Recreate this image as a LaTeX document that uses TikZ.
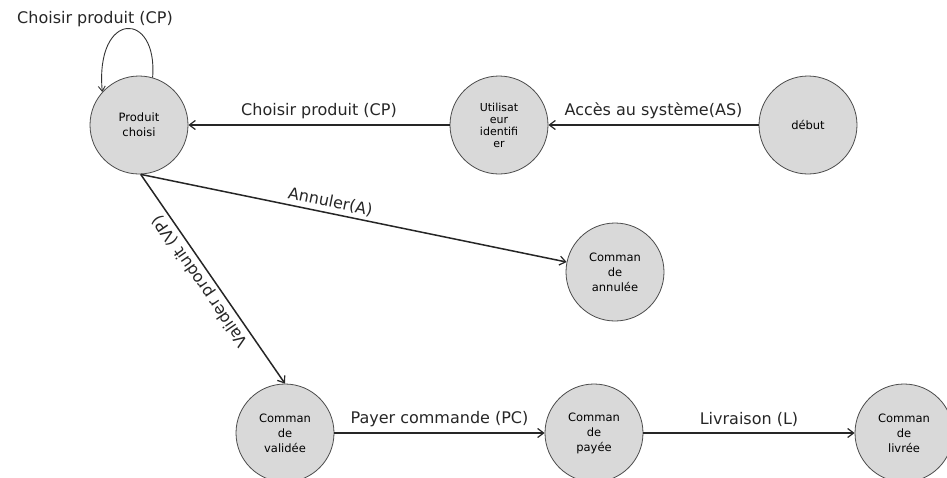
\documentclass[tikz,border=0pt]{standalone}
\usepackage{fontspec}
\setmainfont{DejaVu Sans}
\usetikzlibrary{arrows.meta}
\begin{document}
\begin{tikzpicture}[x=1pt,y=-1pt,
  state/.style={circle, draw=black!70, line width=0.8pt, fill=black!15,
    minimum size=98pt, inner sep=0pt, align=center,
    font=\fontsize{11.5}{15}\selectfont},
  trans/.style={draw=black!85, line width=1.5pt,
    -{Straight Barb[length=6pt,width=9pt,line width=1.2pt]}},
  loop/.style={draw=black!80, line width=0.9pt,
    -{Straight Barb[length=5pt,width=7pt,line width=0.9pt]}},
  lbl/.style={font=\fontsize{16}{18}\selectfont, text=black!85}]
\useasboundingbox (0,0) rectangle (947,477);

% states
\node[state] (pc)  at (139,125) {Produit\\choisi};
\node[state, font=\fontsize{11}{12}\selectfont] (ui) at (499,125) {Utilisat\\eur\\identifi\\er};
\node[state] (deb) at (808,125) {début};
\node[state] (ann) at (615,272) {Comman\\de\\annulée};
\node[state] (val) at (285,433) {Comman\\de\\validée};
\node[state] (pay) at (594,433) {Comman\\de\\payée};
\node[state] (liv) at (904,433) {Comman\\de\\livrée};

% self loop on the chosen product
\draw[loop] (pc.74) .. controls (158,10) and (95,10) .. (pc.138);
\node[lbl] (cpl) at (95,19) {Choisir produit (CP)};

% transitions
\draw[trans] (deb) -- node[lbl, above=2pt] {Accès au système(AS)} (ui);
\draw[trans] (ui) -- node[lbl, above=2pt] {Choisir produit (CP)} (pc);
\draw[trans] (pc.-88) -- node[lbl, pos=0.44, sloped, above=0pt] {Annuler(A)} (ann);
\draw[trans] (pc.-88) -- node[lbl, pos=0.48, rotate=124.4, anchor=south, inner sep=3pt] {Valider produit (VP)} (val.north);
\draw[trans] (val) -- node[lbl, above=2pt] {Payer commande (PC)} (pay);
\draw[trans] (pay) -- node[lbl, above=2pt] {Livraison (L)} (liv);
\end{tikzpicture}
\end{document}
